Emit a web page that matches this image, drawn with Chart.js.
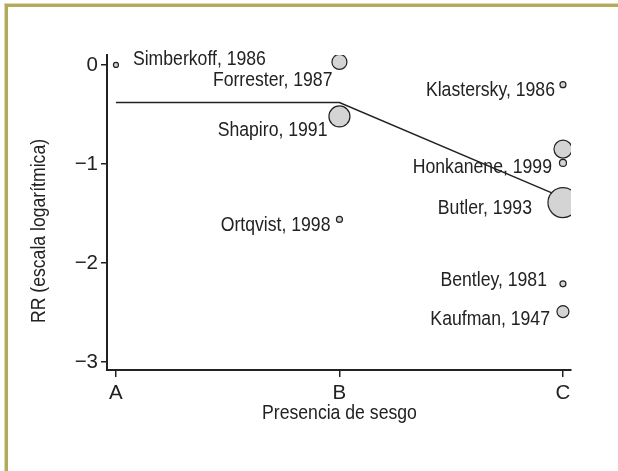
<!DOCTYPE html>
<html>
<head>
<meta charset="utf-8">
<script src="https://cdn.jsdelivr.net/npm/chart.js@4"></script>
<style>
  html, body { margin: 0; padding: 0; background: #fff; }
  .frame { position: absolute; left: 4px; top: 3px; width: 614px; height: 468px;
           border-top: 1px solid #dcd8ad; border-left: 1px solid #dcd8ad; }
  .frame-in { position: absolute; left: 0; top: 0; right: 0; bottom: 0;
              border-top: 3px solid #b3ab5c; border-left: 3px solid #b3ab5c; }
  canvas { position: absolute; left: 0; top: 0; }
</style>
</head>
<body>
<div class="frame"><div class="frame-in"></div></div>
<canvas id="chart" width="618" height="471"></canvas>
<script>
// datos (RR en escala logaritmica)
const categories = ["A", "B", "C"];
const studies = ["Simberkoff, 1986", "Forrester, 1987", "Shapiro, 1991", "Ortqvist, 1998",
                 "Klastersky, 1986", "", "Honkanene, 1999", "Butler, 1993", "Bentley, 1981", "Kaufman, 1947"];
const bias = ["A", "B", "B", "B", "C", "C", "C", "C", "C", "C"];
const logRR = [0, 0.03, -0.52, -1.56, -0.2, -0.85, -0.99, -1.39, -2.21, -2.49];
const weights = [2.5, 7.5, 10.5, 3, 3, 9, 3.5, 15, 3, 6];   // radio del circulo = peso del estudio
const fitRR = [-0.38, -0.38, -1.34];                         // recta ajustada en A, B, C
const yTicks = [0, -1, -2, -3];

const FONT = "20.5px 'Liberation Sans', Arial, sans-serif";
const NARROW = 0.86;   // la fuente original es condensada
const INK = "#222";
const TICK_FONT = { family: "'Liberation Sans', sans-serif", size: 20.5 };

// desplazamiento de cada etiqueta respecto a su circulo (px)
const labelOffsets = [[17, -6], [-7, 18], [-12, 14], [-9, 6], [-8, 6], null, [-11, 4], [-31, 6], [-16, -3], [-13, 8]];

function narrowText(ctx, text, x, y, align, rot) {
    ctx.save();
    ctx.translate(x, y);
    if (rot) ctx.rotate(rot);
    ctx.scale(NARROW, 1);
    ctx.textAlign = align;
    ctx.fillText(text, 0, 0);
    ctx.restore();
}

const labelPlugin = {
    id: "studyLabels",
    afterDatasetsDraw(chart) {
        const ctx = chart.ctx;
        const meta = chart.getDatasetMeta(0);
        ctx.save();
        ctx.font = FONT;
        ctx.fillStyle = INK;
        ctx.textBaseline = "middle";
        meta.data.forEach((pt, i) => {
            const o = labelOffsets[i];
            if (!studies[i] || !o) return;
            narrowText(ctx, studies[i], pt.x + o[0], pt.y + o[1], o[0] > 0 ? "left" : "right");
        });
        // titulos de los ejes
        narrowText(ctx, "Presencia de sesgo", chart.scales.x.getPixelForValue(1), 413, "center");
        narrowText(ctx, "RR (escala logarítmica)", 39, 231, "center", -Math.PI / 2);
        ctx.restore();
    }
};

const ctx = document.getElementById("chart").getContext("2d");

const chart = new Chart(ctx, {
    type: "bubble",
    data: {
        datasets: [
            {
                data: logRR.map((v, i) => ({ x: categories.indexOf(bias[i]), y: v, r: weights[i] })),
                backgroundColor: "#d4d4d4",
                borderColor: INK,
                borderWidth: 1.2,
                order: 0,
            },
            {
                type: "line",
                data: fitRR.map((v, i) => ({ x: i, y: v })),
                borderColor: INK,
                borderWidth: 1.5,
                pointRadius: 0,
                fill: false,
                order: 1,
            },
        ],
    },
    options: {
        responsive: false,
        animation: false,
        events: [],
        layout: { padding: { top: 55, right: 47, left: 0, bottom: 0 } },
        plugins: { legend: { display: false }, tooltip: { enabled: false } },
        scales: {
            x: {
                type: "linear",
                min: -0.04,
                max: 2.036,
                afterBuildTicks: (s) => { s.ticks = categories.map((c, i) => ({ value: i })); },
                afterFit: (s) => { s.height = 101; },
                ticks: { callback: (v) => categories[v], font: TICK_FONT, color: INK, padding: 4, maxRotation: 0 },
                grid: { drawOnChartArea: false, tickLength: 7, color: INK, lineWidth: 1.5 },
                border: { color: INK, width: 2 },
            },
            y: {
                min: -3.08,
                max: 0.1,
                afterBuildTicks: (s) => { s.ticks = yTicks.map((v) => ({ value: v })); },
                afterFit: (s) => { s.width = 107; },
                ticks: { callback: (v) => (v < 0 ? "\u2212" + Math.abs(v) : String(v)), font: TICK_FONT, color: INK, padding: 3 },
                grid: { drawOnChartArea: false, tickLength: 6, color: INK, lineWidth: 1.5 },
                border: { color: INK, width: 2 },
            },
        },
    },
    plugins: [labelPlugin],
});
</script>
</body>
</html>
